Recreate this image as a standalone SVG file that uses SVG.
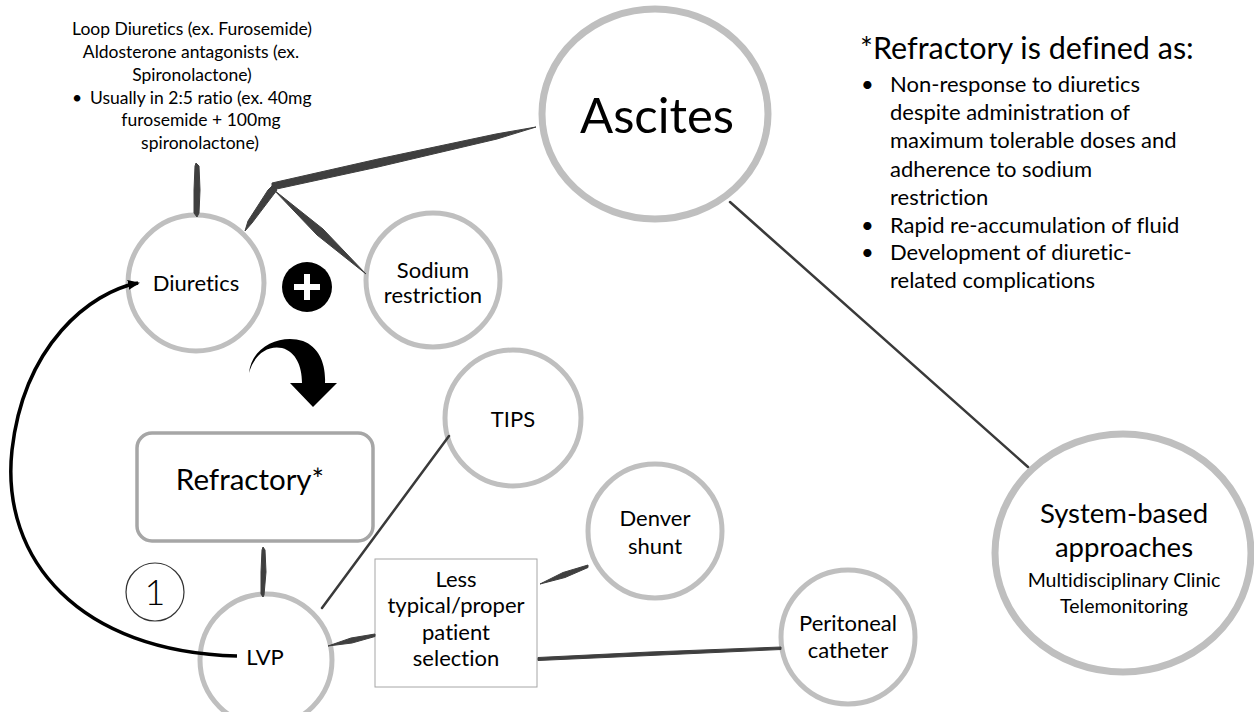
<svg xmlns="http://www.w3.org/2000/svg" width="1254" height="712" viewBox="0 0 1254 712">
<style>
text{font-family:Lato,"Open Sans","Liberation Sans",sans-serif;fill:#000;font-variant-ligatures:none;font-feature-settings:"liga" 0}
.c{text-anchor:middle}
.ring{fill:#fff;stroke:#bfbfbf;stroke-width:5}
.big{fill:#fff;stroke:#bfbfbf;stroke-width:7}
.brush{fill:#3f3f3f;stroke:#3f3f3f;stroke-width:1;stroke-linejoin:round}
.thin{fill:none;stroke:#3a3a3a;stroke-linecap:round}
.n20{font-size:22px}
.note{font-size:17.5px}
</style>
<defs>
<marker id="ah" viewBox="0 0 12 10" refX="10" refY="5" markerWidth="12" markerHeight="10" markerUnits="userSpaceOnUse" orient="auto">
<path d="M0,0 L12,5 L0,10 Z" fill="#000"/>
</marker>
</defs>
<rect width="1254" height="712" fill="#fff"/>

<g id="ascites">
<ellipse class="big" cx="655" cy="114" rx="113" ry="105"/>
<text class="c" x="657" y="133" font-size="49">Ascites</text>
</g>

<g id="diuretics-note" class="note">
<text class="c" x="192" y="35">Loop Diuretics (ex. Furosemide)</text>
<text class="c" x="191" y="58">Aldosterone antagonists (ex.</text>
<text class="c" x="192" y="81">Spironolactone)</text>
<text x="72" y="104">•</text>
<text x="90" y="104">Usually in 2:5 ratio (ex. 40mg</text>
<text class="c" x="201" y="126">furosemide + 100mg</text>
<text class="c" x="200" y="149">spironolactone)</text>
</g>

<g id="diuretics">
<circle class="ring" cx="196" cy="283" r="68"/>
<text class="c n20" x="196" y="291">Diuretics</text>
</g>

<g id="plus">
<circle cx="307" cy="287" r="25" fill="#000"/>
<path d="M307,274 V300 M294,287 H320" stroke="#fff" stroke-width="6"/>
</g>

<g id="sodium">
<circle class="ring" cx="433" cy="280" r="67"/>
<text class="c n20" x="433" y="278">Sodium</text>
<text class="c n20" x="433" y="303">restriction</text>
</g>

<g id="turn-arrow">
<path d="M249,373 C252,345 282,334 303,341 C319,347 326,364 325,383 L337,383 L313,407 L290,383 L302,383 C302,366 296,352 282,348 C267,345 254,355 249,373 Z" fill="#000"/>
</g>

<g id="refractory">
<rect x="137" y="433" width="236" height="108" rx="15" fill="#fff" stroke="#a6a6a6" stroke-width="3.5"/>
<text class="c" x="250" y="490" font-size="29.5">Refractory*</text>
</g>

<g id="step1">
<circle cx="155" cy="592" r="29" fill="none" stroke="#333" stroke-width="1.2"/>
<text class="c" x="155" y="605" font-size="36" font-weight="300" fill="#333">1</text>
</g>

<g id="lvp">
<circle class="ring" cx="266" cy="660" r="66"/>
<text class="c n20" x="265" y="665">LVP</text>
</g>

<g id="tips">
<circle class="ring" cx="513" cy="418" r="68"/>
<text class="c n20" x="513" y="427">TIPS</text>
</g>

<g id="less-typical">
<rect x="375" y="559" width="162" height="128" fill="#fff" stroke="#a6a6a6" stroke-width="1"/>
<text class="c n20" x="456" y="587">Less</text>
<text class="c n20" x="456" y="613">typical/proper</text>
<text class="c n20" x="456" y="640">patient</text>
<text class="c n20" x="456" y="666">selection</text>
</g>

<g id="denver">
<circle class="ring" cx="655" cy="531" r="67"/>
<text class="c n20" x="655" y="526">Denver</text>
<text class="c n20" x="655" y="554">shunt</text>
</g>

<g id="peritoneal">
<circle class="ring" cx="848" cy="637" r="67"/>
<text class="c n20" x="848" y="631">Peritoneal</text>
<text class="c n20" x="848" y="658">catheter</text>
</g>

<g id="system">
<ellipse class="big" cx="1123" cy="553" rx="128" ry="119"/>
<text class="c" x="1124" y="523" font-size="27.5">System-based</text>
<text class="c" x="1124" y="557" font-size="27.5">approaches</text>
<text class="c" x="1124" y="587" font-size="19.5">Multidisciplinary Clinic</text>
<text class="c" x="1124" y="613" font-size="19.5">Telemonitoring</text>
</g>

<g id="definition">
<text x="860" y="59" font-size="30.5">*Refractory is defined as:</text>
<g font-size="22">
<text x="861" y="92">•</text>
<text x="890" y="92">Non-response to diuretics</text>
<text x="890" y="120">despite administration of</text>
<text x="890" y="148">maximum tolerable doses and</text>
<text x="890" y="177">adherence to sodium</text>
<text x="890" y="205">restriction</text>
<text x="861" y="233">•</text>
<text x="890" y="233">Rapid re-accumulation of fluid</text>
<text x="861" y="260">•</text>
<text x="890" y="260">Development of diuretic-</text>
<text x="890" y="288">related complications</text>
</g>
</g>

<g id="connectors">
<polygon class="brush" points="272,183 378,159 496,134 536,127 497,139 378,167 272,190"/>
<polygon class="brush" points="196,163 199,166 200,190 199,213 197,217 194,213 194,190 195,166"/>
<polygon class="brush" points="272,186 277,190 252,223 245,231 248,221 268,190"/>
<polygon class="brush" points="274,190 323,229 366,274 317,235"/>
<polygon class="brush" points="263,547 265,550 266,572 264,595 263,597 261,594 261,572 262,550"/>
<polygon class="brush" points="328,646 351,638 375,634 375,636.5 352,643"/>
<polygon class="brush" points="540,584 563,572.5 588,565 588,567.5 565,577.5"/>
<polygon class="brush" points="538,657.5 650,652 781,647 781,649.5 650,655.5 538,660.5"/>
<line class="thin" x1="730" y1="202" x2="1028" y2="467" stroke-width="2.5"/>
<line class="thin" x1="322" y1="608" x2="449" y2="436" stroke-width="2.5"/>
<path d="M237,656 C80,652 0,560 12,450 C24,345 90,292 138,283" fill="none" stroke="#000" stroke-width="3.5" marker-end="url(#ah)"/>
</g>
</svg>
